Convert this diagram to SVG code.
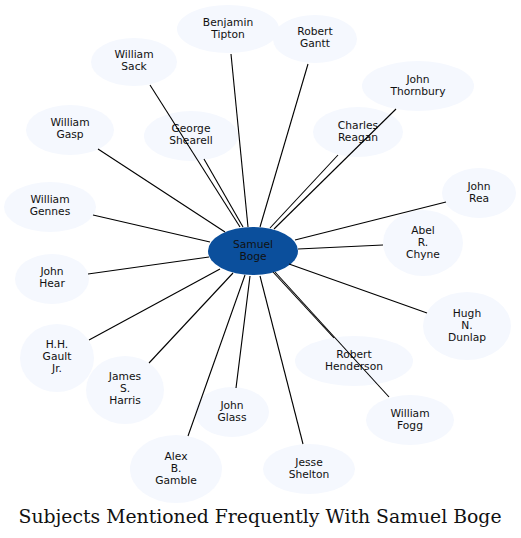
<svg xmlns="http://www.w3.org/2000/svg" width="521" height="538" viewBox="0 0 521 538">
<style>
.n ellipse{fill:#f5f8fe;stroke:none}
.c ellipse{fill:#0b4f9c;stroke:none}
text{font-family:"DejaVu Sans",sans-serif;font-size:10.7px;fill:#111;text-anchor:middle}
#edges line{stroke:#000;stroke-width:1.1}
.title{font-family:"DejaVu Serif",serif;font-size:18px;fill:#111}
</style>
<rect width="521" height="538" fill="#fff"/>
<g id="nodes">
<g id="n-tipton" class="n"><ellipse cx="228" cy="29" rx="51" ry="24"/><text x="228" y="26">Benjamin</text><text x="228" y="38">Tipton</text></g>
<g id="n-gantt" class="n"><ellipse cx="315" cy="39" rx="42" ry="24"/><text x="315" y="35">Robert</text><text x="315" y="47">Gantt</text></g>
<g id="n-sack" class="n"><ellipse cx="134" cy="62" rx="43" ry="24"/><text x="134" y="58">William</text><text x="134" y="70">Sack</text></g>
<g id="n-thornbury" class="n"><ellipse cx="418" cy="86" rx="56" ry="25"/><text x="418" y="83">John</text><text x="418" y="95">Thornbury</text></g>
<g id="n-reagan" class="n"><ellipse cx="358" cy="132" rx="45" ry="25"/><text x="358" y="129">Charles</text><text x="358" y="141">Reagan</text></g>
<g id="n-gasp" class="n"><ellipse cx="70" cy="130" rx="44" ry="25"/><text x="70" y="126">William</text><text x="70" y="138">Gasp</text></g>
<g id="n-shearell" class="n"><ellipse cx="191" cy="136" rx="47" ry="25"/><text x="191" y="132">George</text><text x="191" y="144">Shearell</text></g>
<g id="n-rea" class="n"><ellipse cx="479" cy="193" rx="37" ry="25"/><text x="479" y="190">John</text><text x="479" y="202">Rea</text></g>
<g id="n-gennes" class="n"><ellipse cx="50" cy="207" rx="46" ry="25"/><text x="50" y="203">William</text><text x="50" y="215">Gennes</text></g>
<g id="n-chyne" class="n"><ellipse cx="423" cy="243" rx="40" ry="33"/><text x="423" y="234">Abel</text><text x="423" y="246">R.</text><text x="423" y="258">Chyne</text></g>
<g id="n-hear" class="n"><ellipse cx="52" cy="279" rx="37" ry="25"/><text x="52" y="275">John</text><text x="52" y="287">Hear</text></g>
<g id="n-dunlap" class="n"><ellipse cx="467" cy="326" rx="44" ry="34"/><text x="467" y="317">Hugh</text><text x="467" y="329">N.</text><text x="467" y="341">Dunlap</text></g>
<g id="n-gault" class="n"><ellipse cx="57" cy="358" rx="37" ry="34"/><text x="57" y="348">H.H.</text><text x="57" y="360">Gault</text><text x="57" y="372">Jr.</text></g>
<g id="n-henderson" class="n"><ellipse cx="354" cy="361" rx="59" ry="25"/><text x="354" y="358">Robert</text><text x="354" y="370">Henderson</text></g>
<g id="n-harris" class="n"><ellipse cx="125" cy="390" rx="39" ry="34"/><text x="125" y="380">James</text><text x="125" y="392">S.</text><text x="125" y="404">Harris</text></g>
<g id="n-glass" class="n"><ellipse cx="232" cy="412" rx="37" ry="25"/><text x="232" y="409">John</text><text x="232" y="421">Glass</text></g>
<g id="n-fogg" class="n"><ellipse cx="410" cy="420" rx="44" ry="25"/><text x="410" y="417">William</text><text x="410" y="429">Fogg</text></g>
<g id="n-gamble" class="n"><ellipse cx="176" cy="469" rx="46" ry="34"/><text x="176" y="460">Alex</text><text x="176" y="472">B.</text><text x="176" y="484">Gamble</text></g>
<g id="n-shelton" class="n"><ellipse cx="309" cy="469" rx="46" ry="25"/><text x="309" y="466">Jesse</text><text x="309" y="478">Shelton</text></g>
<g id="n-boge" class="c"><ellipse cx="253" cy="251" rx="45" ry="24"/><text x="253" y="248">Samuel</text><text x="253" y="260">Boge</text></g>
</g>
<g id="edges">
<line x1="248" y1="227" x2="231" y2="54"/>
<line x1="260" y1="227" x2="308" y2="64"/>
<line x1="240" y1="227" x2="150" y2="85"/>
<line x1="243" y1="227" x2="204" y2="159"/>
<line x1="270" y1="228" x2="338" y2="155"/>
<line x1="274" y1="229" x2="396" y2="109"/>
<line x1="295" y1="240" x2="446" y2="202"/>
<line x1="298" y1="249" x2="383" y2="245"/>
<line x1="225" y1="232" x2="98" y2="149"/>
<line x1="210" y1="242" x2="93" y2="215"/>
<line x1="209" y1="257" x2="88" y2="274"/>
<line x1="220" y1="269" x2="89" y2="340"/>
<line x1="233" y1="273" x2="149" y2="363"/>
<line x1="245" y1="275" x2="188" y2="436"/>
<line x1="250" y1="276" x2="236" y2="388"/>
<line x1="260" y1="276" x2="303" y2="444"/>
<line x1="273" y1="272" x2="334" y2="338"/>
<line x1="275" y1="272" x2="389" y2="397"/>
<line x1="289" y1="264" x2="427" y2="313"/>
</g>
<text class="title" x="260" y="523" textLength="483" lengthAdjust="spacingAndGlyphs">Subjects Mentioned Frequently With Samuel Boge</text>
</svg>
